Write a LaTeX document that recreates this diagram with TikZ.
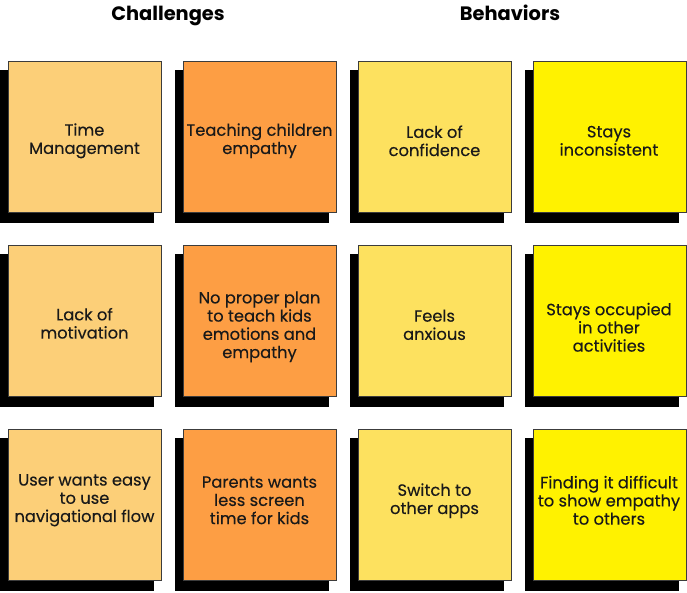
\documentclass[tikz,border=0pt]{standalone}
\usepackage{fontspec}
\setmainfont{Poppins}
\newfontfamily\notefont{Poppins}[FakeBold=0.25]
\definecolor{colA}{RGB}{252,207,120}
\definecolor{colB}{RGB}{253,158,68}
\definecolor{colC}{RGB}{253,225,95}
\definecolor{colD}{RGB}{255,242,0}
\definecolor{edgegray}{RGB}{60,60,60}
\newcommand\stickynote[6]{%
  \fill[shadowbox] (#2-8,#3+9) rectangle ++(154,153);
  \node[card,fill=#4] (#1) at (#2,#3) {};
  \node[cardtext] (#1t) at (#2+76.5,#6+0.3) {#5};
}
\begin{document}
\begin{tikzpicture}[x=1pt,y=-1pt,
  shadowbox/.style={fill=black,draw=none},
  card/.style={draw=edgegray,line width=0.8pt,minimum width=153pt,minimum height=151pt,inner sep=0pt,anchor=north west},
  cardtext/.style={align=center,font=\notefont\fontsize{16.3}{18.2}\selectfont,text=black!90,inner sep=0pt},
  heading/.style={font=\fontsize{19.4}{24}\selectfont\bfseries,anchor=base,inner sep=0pt}]
\useasboundingbox[fill=white] (0,0) rectangle (687,593);
\node[heading] (hc) at (168,21) {Challenges};
\node[heading] (hb) at (510,21) {Behaviors};
% row 1
\stickynote{a1}{8}{61}{colA}{Time\\Management}{140.5}
\stickynote{b1}{183}{61}{colB}{Teaching children\\empathy}{140.5}
\stickynote{c1}{358}{61}{colC}{Lack of\\confidence}{140.5}
\stickynote{d1}{532.5}{61}{colD}{Stays\\inconsistent}{140.5}
% row 2
\stickynote{a2}{8}{245}{colA}{Lack of\\motivation}{323}
\stickynote{b2}{183}{245}{colB}{No proper plan\\to teach kids\\emotions and\\empathy}{326.5}
\stickynote{c2}{358}{245}{colC}{Feels\\anxious}{324.5}
\stickynote{d2}{532.5}{245}{colD}{Stays occupied\\in other\\activities}{327}
% row 3
\stickynote{a3}{8}{429}{colA}{User wants easy\\to use\\navigational flow}{500}
\stickynote{b3}{183}{429}{colB}{Parents wants\\less screen\\time for kids}{500}
\stickynote{c3}{358}{429}{colC}{Switch to\\other apps}{500.5}
\stickynote{d3}{532.5}{429}{colD}{Finding it difficult\\to show empathy\\to others}{500}
\end{tikzpicture}
\end{document}
